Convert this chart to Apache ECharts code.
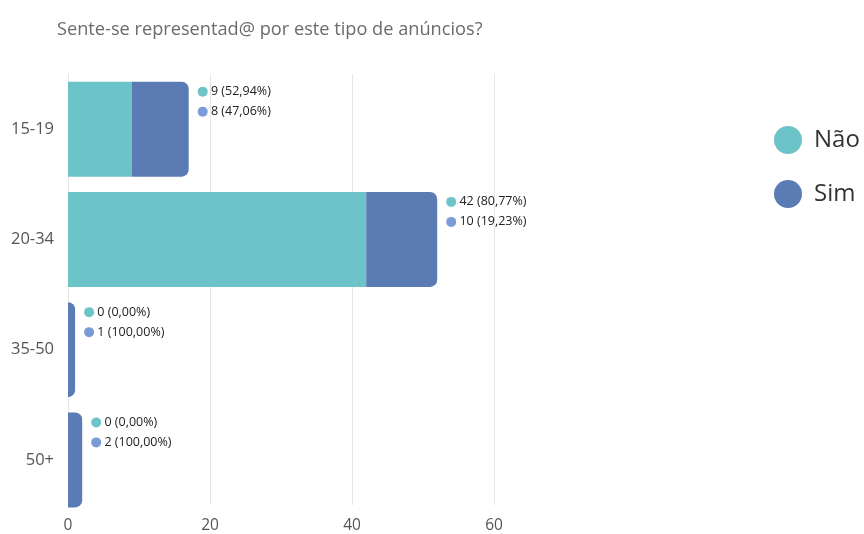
<!DOCTYPE html>
<html>
<head>
<meta charset="utf-8">
<script src="https://cdn.jsdelivr.net/npm/echarts@6/dist/echarts.min.js"></script>
<style>
  html, body { margin: 0; padding: 0; background: #fff; }
  #chart { width: 864px; height: 534px; }
</style>
</head>
<body>
<div id="chart"></div>
<script>
// Age groups and answer counts
const categories = ['15-19', '20-34', '35-50', '50+'];
const naoValues = [9, 42, 0, 0];
const simValues = [8, 10, 1, 2];
const seriesNames = ['Não', 'Sim'];
const xMin = 0, xMax = 60, xStep = 20;

const colNao = '#6cc3c8';
const colSim = '#5b7bb4';
const dotSim = '#7a9bd6';
const font = '"Open Sans", "Noto Sans", sans-serif';

function pct(v, total) {
  const p = total ? (v / total) * 100 : 0;
  return p.toFixed(2).replace('.', ',') + '%';
}

const chart = echarts.init(document.getElementById('chart'), null, { renderer: 'canvas' });

chart.setOption({
  animation: false,
  backgroundColor: '#ffffff',
  textStyle: { fontFamily: font },
  title: {
    text: 'Sente-se representad@ por este tipo de anúncios?',
    left: 57, top: 21, padding: 0,
    textStyle: { fontFamily: font, fontSize: 18.2, fontWeight: 'normal', color: '#6b6b6b' }
  },
  legend: {
    orient: 'vertical',
    left: 774, top: 126, padding: 0,
    icon: 'circle',
    itemWidth: 28, itemHeight: 28, itemGap: 26,
    data: seriesNames,
    textStyle: { fontFamily: font, fontSize: 24, color: '#333', padding: [0, 0, 0, 7] }
  },
  grid: [
    { left: 68, width: 426, top: 74, height: 434, containLabel: false },
    { left: 68, width: 426, top: 74, height: 441, containLabel: false }
  ],
  xAxis: [
    {
      gridIndex: 0, type: 'value', min: xMin, max: xMax, interval: xStep,
      axisLine: { show: false }, axisTick: { show: false },
      axisLabel: { fontFamily: font, fontSize: 15.5, color: '#555', margin: 13 },
      splitLine: { show: true, lineStyle: { color: '#e6e6e6', width: 1 } }
    },
    {
      gridIndex: 1, type: 'value', min: xMin, max: xMax, interval: xStep,
      show: false, splitLine: { show: false }
    }
  ],
  yAxis: [
    {
      gridIndex: 0, type: 'category', data: categories, inverse: true,
      show: false
    },
    {
      gridIndex: 1, type: 'category', data: categories, inverse: true,
      axisLine: { show: false }, axisTick: { show: false },
      axisLabel: { fontFamily: font, fontSize: 16.5, color: '#555', margin: 14, padding: [4, 0, 0, 0] }
    }
  ],
  series: [
    {
      name: seriesNames[0], type: 'bar', stack: 'total',
      xAxisIndex: 1, yAxisIndex: 1,
      barWidth: 95,
      data: naoValues,
      itemStyle: { color: colNao }
    },
    {
      name: seriesNames[1], type: 'bar', stack: 'total',
      xAxisIndex: 1, yAxisIndex: 1,
      barWidth: 95,
      data: simValues,
      itemStyle: { color: colSim, borderRadius: [0, 7, 7, 0] },
      label: {
        show: true,
        position: ['100%', 0],
        offset: [9, 0],
        align: 'left',
        verticalAlign: 'top',
        formatter: function (p) {
          const i = p.dataIndex;
          const n = naoValues[i], s = simValues[i], t = n + s;
          return '{a|}{t| ' + n + ' (' + pct(n, t) + ')}\n{b|}{t| ' + s + ' (' + pct(s, t) + ')}';
        },
        rich: {
          a: { width: 10, height: 10, borderRadius: 5, backgroundColor: colNao },
          b: { width: 10, height: 10, borderRadius: 5, backgroundColor: dotSim },
          t: { fontFamily: font, fontSize: 12.5, color: '#222', lineHeight: 20 }
        }
      }
    }
  ]
});
</script>
</body>
</html>
